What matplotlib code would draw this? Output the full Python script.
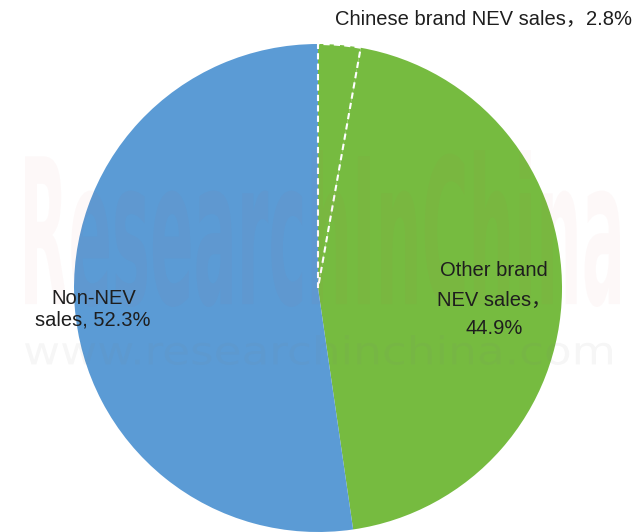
import matplotlib.pyplot as plt
from matplotlib.textpath import TextPath
from matplotlib.patches import PathPatch
from matplotlib.font_manager import FontProperties
from matplotlib.transforms import Affine2D

# data
labels = ["Chinese brand NEV sales", "Other brand NEV sales", "Non-NEV sales"]
shares = [2.8, 44.9, 52.3]
colors = ["#76BB40", "#76BB40", "#5B9BD5"]

W, H = 641, 532
fig = plt.figure(figsize=(W / 100, H / 100), dpi=100)

# pie placed by pixel centre / radius
cx, cy, r = 318, 288, 244
ax = fig.add_axes([(cx - r) / W, (H - cy - r) / H, 2 * r / W, 2 * r / H])
wedges, _ = ax.pie(shares, colors=colors, startangle=90, counterclock=False,
                   wedgeprops=dict(linewidth=0, edgecolor="white"))
for w in wedges:
    w.set_clip_on(False)
wedges[0].set_linewidth(1.5)
wedges[0].set_linestyle((0, (3, 2)))
wedges[0].set_zorder(3)
ax.set_xlim(-1, 1)
ax.set_ylim(-1, 1)


# watermark, stretched into a pixel box (x0, top, x1, bottom)
def stamp(txt, box, prop, color, alpha):
    x0, y0, x1, y1 = box
    path = TextPath((0, 0), txt, size=100, prop=prop)
    bb = path.get_extents()
    tr = (Affine2D().translate(-bb.x0, -bb.y0)
          .scale((x1 - x0) / bb.width / W, (y1 - y0) / bb.height / H)
          .translate(x0 / W, 1 - y1 / H))
    fig.add_artist(PathPatch(path, transform=tr + fig.transFigure,
                             facecolor=color, alpha=alpha, lw=0))


stamp("ResearchInChina", (25, 150, 620, 307),
      FontProperties(family="Liberation Sans Narrow", weight="bold"), "#D84C4C", 0.035)
stamp("www.researchinchina.com", (25, 335, 612, 365),
      FontProperties(family="DejaVu Sans"), "#808080", 0.07)

# labels
fam = ["Liberation Sans", "Noto Sans CJK SC"]
tc = "#1E1E1E"
fs = 14.5


def put(x, y, s, **kw):
    fig.text(x / W, 1 - y / H, s, family=fam, fontsize=fs, color=tc, **kw)


put(335, 19, f"{labels[0]}，{shares[0]}%", ha="left", va="center")
put(94, 298, "Non-NEV", ha="center", va="center")
put(93, 320, f"sales, {shares[2]}%", ha="center", va="center")
put(494, 271, "Other brand", ha="center", va="center")
put(494, 300, "NEV sales，", ha="center", va="center")
put(494, 329, f"{shares[1]}%", ha="center", va="center")

fig.savefig("out.png", dpi=100)
